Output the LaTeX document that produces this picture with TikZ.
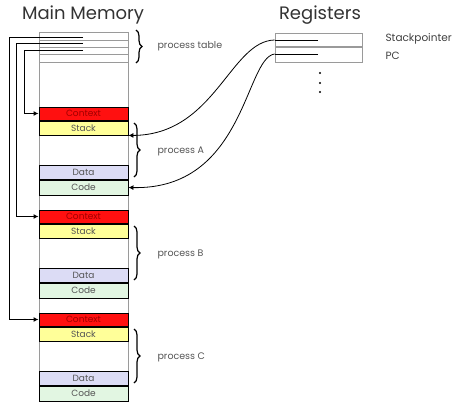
\documentclass[tikz,border=0pt]{standalone}
\usepackage{fontspec}
\setmainfont{Poppins}
\usetikzlibrary{decorations.pathreplacing,arrows.meta}
\definecolor{ctxRed}{HTML}{FF1010}
\definecolor{ctxText}{HTML}{A00000}
\definecolor{stkYellow}{HTML}{FFFF99}
\definecolor{datBlue}{HTML}{DCDCF5}
\definecolor{codGreen}{HTML}{E2F6E2}
\definecolor{lineGray}{HTML}{9A9A9A}
\definecolor{textGray}{HTML}{555555}
\begin{document}
\begin{tikzpicture}[x=1pt, y=-1pt,
    blockStyle/.style={draw=black, line width=0.9pt, minimum width=89pt, inner sep=0pt, font=\fontsize{9}{10}\selectfont, text=textGray},
    titleStyle/.style={font=\fontsize{18}{20}\selectfont, text=black!80},
    labelStyle/.style={anchor=west, font=\fontsize{9.5}{10}\selectfont, text=textGray},
    braceStyle/.style={decorate, decoration={brace, amplitude=6pt}, line width=1.2pt},
    ptrStyle/.style={line width=1pt, -{Latex[length=5pt, width=5pt]}}]
    \useasboundingbox (0,0) rectangle (468,415);

    % titles
    \node[titleStyle](mainTitle) at (83, 15) {Main Memory};
    \node[titleStyle](regTitle) at (320, 15) {Registers};

    % main memory column and process table
    \node[draw=lineGray, line width=0.8pt, minimum width=89pt, minimum height=368pt, inner sep=0pt](memory) at (83.5, 216) {};
    \foreach \y in {40, 47, 54, 62}
        \draw[lineGray, line width=1pt] (39, \y) -- (128, \y);
    \coordinate (rowC) at (83, 37);
    \coordinate (rowB) at (83, 43);
    \coordinate (rowA) at (83, 50);

    % the three processes
    \foreach \p/\y in {A/107, B/210, C/313} {
        \node[blockStyle, fill=ctxRed, text=ctxText, minimum height=13pt](ctx\p) at (83.5, \y+6.5) {Context};
        \node[blockStyle, fill=stkYellow, minimum height=14pt](stk\p) at (83.5, \y+21) {Stack};
        \node[blockStyle, fill=datBlue, line width=0.5pt, minimum height=14pt](dat\p) at (83.5, \y+65) {Data};
        \node[blockStyle, fill=codGreen, minimum height=15pt](cod\p) at (83.5, \y+80.5) {Code};
        \draw[braceStyle] (134, \y+16) -- (134, \y+70);
        \node[labelStyle](lab\p) at (154, \y+44) {process \p};
    }

    % pointers from the process table
    \draw[ptrStyle] (rowC) -- ++(-74, 0) |- (ctxC.west);
    \draw[ptrStyle] (rowB) -- ++(-67, 0) |- (ctxB.west);
    \draw[ptrStyle] (rowA) -- ++(-59, 0) |- (ctxA.west);

    \draw[braceStyle] (136, 30) -- (136, 63);
    \node[labelStyle](labTable) at (154, 46) {process table};

    % registers
    \node[draw=lineGray, line width=0.8pt, minimum width=87pt, minimum height=14pt, inner sep=0pt](regSP) at (318.5, 40) {};
    \node[draw=lineGray, line width=0.8pt, minimum width=87pt, minimum height=15pt, inner sep=0pt](regPC) at (318.5, 54.5) {};
    \draw[lineGray, line width=2pt] (regSP.south west) -- (regSP.south east);
    \node[labelStyle, text=black!75, font=\fontsize{10.5}{11}\selectfont](labSP) at (382, 39) {Stackpointer};
    \node[labelStyle, text=black!75, font=\fontsize{10.5}{11}\selectfont](labPC) at (382, 56) {PC};
    \foreach \y in {73, 83, 92}
        \fill (320, \y) circle (1.2pt);

    % register pointers
    \coordinate (spEnd) at (318, 40);
    \coordinate (pcEnd) at (318, 54);
    \draw[line width=0.8pt] (spEnd) -- (regSP.west);
    \draw[line width=0.8pt] (pcEnd) -- (regPC.west |- pcEnd);
    \draw[ptrStyle, line width=0.8pt] (regSP.west) .. controls (230, 41) and (215, 135) .. (stkA.south east);
    \draw[ptrStyle, line width=0.8pt] (regPC.west |- pcEnd) .. controls (245, 58) and (245, 190) .. (codA.east);
\end{tikzpicture}
\end{document}
